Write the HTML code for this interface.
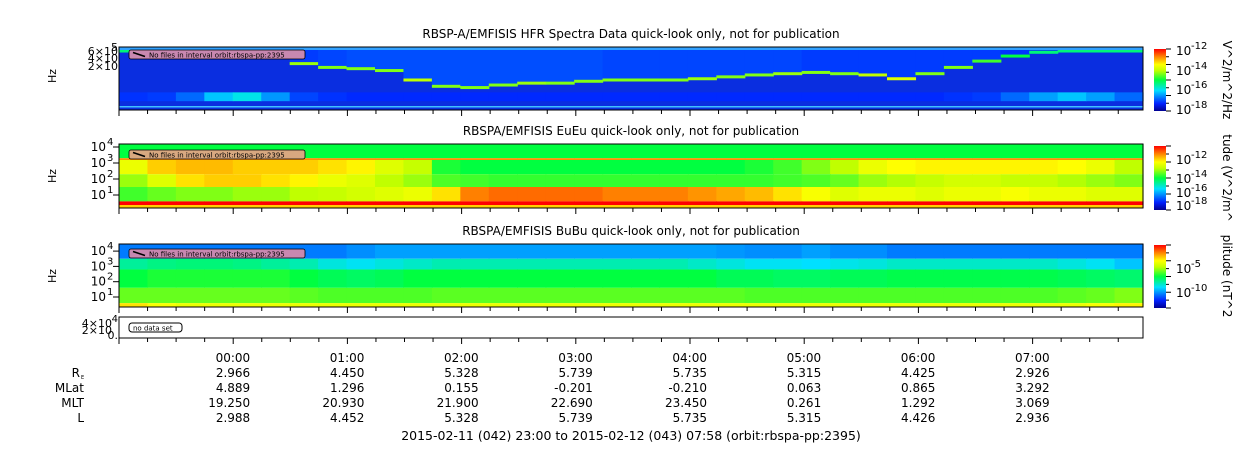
<!DOCTYPE html>
<html><head><meta charset="utf-8">
<style>
body{margin:0;background:#fff;}
svg{display:block;font-family:"DejaVu Sans","Liberation Sans",sans-serif;}
</style></head>
<body>
<svg id="s" width="1250" height="449" viewBox="0 0 1250 449" xmlns="http://www.w3.org/2000/svg">
<defs>
<linearGradient id="jet" x1="0" y1="1" x2="0" y2="0">
<stop offset="0" stop-color="#000090"/><stop offset="0.12" stop-color="#0020ff"/><stop offset="0.33" stop-color="#00e0ff"/>
<stop offset="0.5" stop-color="#00ff40"/><stop offset="0.65" stop-color="#c0ff00"/><stop offset="0.75" stop-color="#ffff00"/>
<stop offset="0.88" stop-color="#ff8000"/><stop offset="1" stop-color="#ff0000"/>
</linearGradient>
</defs>
<g id="g"></g>
</svg>
<script>
// ---- data (15-minute columns from 23:00) ----
const hourLabels=["00:00","01:00","02:00","03:00","04:00","05:00","06:00","07:00"];
const reVals=["2.966","4.450","5.328","5.739","5.735","5.315","4.425","2.926"];
const mlatVals=["4.889","1.296","0.155","-0.201","-0.210","0.063","0.865","3.292"];
const mltVals=["19.250","20.930","21.900","22.690","23.450","0.261","1.292","3.069"];
const lVals=["2.988","4.452","5.328","5.739","5.735","5.315","4.426","2.936"];
// HFR upper-hybrid line position (fraction of panel height) and intensity
const hfrLinePos=[.04,.04,.04,.04,.04,.08,.24,.3,.32,.35,.5,.6,.62,.58,.55,.55,.52,.5,.5,.5,.48,.45,.42,.4,.38,.4,.42,.48,.4,.3,.2,.12,.06,.04,.04,.04];
const hfrLineVal=[.45,.45,.45,.45,.5,.55,.62,.6,.6,.6,.65,.6,.6,.6,.62,.6,.6,.6,.6,.6,.62,.6,.6,.62,.6,.6,.65,.7,.6,.6,.55,.5,.45,.45,.45,.45];
const hfrUpperVal=[.15,.15,.15,.15,.15,.15,.15,.16,.17,.17,.17,.17,.17,.17,.17,.17,.17,.16,.16,.16,.16,.16,.16,.16,.15,.15,.15,.15,.15,.15,.15,.14,.14,.14,.14,.14];
const hfrLowVal=[.14,.15,.2,.3,.35,.25,.16,.14,.13,.13,.13,.13,.13,.13,.13,.13,.13,.13,.13,.13,.13,.13,.13,.13,.13,.13,.13,.13,.13,.14,.15,.2,.26,.3,.26,.2];
// EuEu layers
const eTopVal=[.5,.5,.5,.5,.5,.5,.5,.5,.5,.5,.5,.5,.5,.5,.5,.5,.5,.5,.5,.5,.5,.5,.5,.5,.5,.5,.5,.5,.5,.5,.5,.5,.5,.5,.5,.5];
const eHighVal=[.72,.8,.82,.82,.8,.8,.8,.78,.76,.7,.66,.52,.5,.5,.5,.5,.5,.5,.5,.5,.5,.5,.52,.55,.6,.65,.72,.75,.76,.76,.76,.76,.76,.75,.72,.65];
const eMidVal=[.62,.7,.78,.8,.8,.78,.76,.72,.7,.65,.62,.56,.55,.54,.54,.54,.54,.54,.54,.54,.54,.54,.54,.55,.56,.58,.62,.64,.66,.68,.68,.66,.66,.64,.62,.6];
const eLowVal=[.55,.58,.6,.6,.62,.62,.65,.66,.68,.7,.72,.78,.88,.9,.9,.9,.9,.88,.88,.88,.86,.84,.82,.78,.74,.7,.72,.72,.7,.72,.72,.74,.72,.72,.7,.7];
const eStripVal=[1,1,1,1,1,1,1,1,1,1,1,1,1,1,1,1,1,1,1,1,1,1,1,1,1,1,1,1,1,1,1,1,1,1,1,1];
// BuBu layers
const bTopVal=[.22,.22,.22,.22,.22,.22,.22,.22,.24,.26,.26,.26,.26,.26,.26,.26,.26,.26,.26,.26,.26,.25,.24,.24,.26,.24,.24,.22,.22,.22,.22,.22,.22,.22,.22,.22];
const bUpVal=[.42,.44,.45,.45,.44,.42,.4,.36,.34,.36,.38,.4,.4,.4,.4,.4,.4,.4,.4,.4,.38,.36,.34,.34,.33,.35,.36,.38,.38,.38,.38,.38,.38,.36,.34,.3];
const bMidVal=[.5,.52,.52,.52,.52,.52,.5,.48,.47,.48,.5,.5,.5,.5,.5,.5,.5,.5,.5,.5,.5,.48,.48,.47,.47,.48,.48,.49,.49,.49,.49,.49,.49,.48,.47,.46];
const bLowVal=[.58,.58,.58,.58,.58,.58,.57,.56,.56,.56,.56,.57,.57,.57,.57,.57,.57,.57,.57,.57,.57,.57,.56,.56,.56,.56,.56,.56,.56,.56,.56,.56,.56,.57,.58,.6];
const bStripVal=[.78,.74,.72,.72,.72,.72,.72,.72,.72,.72,.72,.72,.72,.72,.72,.72,.72,.72,.72,.72,.72,.72,.72,.72,.72,.72,.72,.72,.72,.72,.72,.72,.72,.72,.74,.76];

const NS="http://www.w3.org/2000/svg";
const G=document.getElementById('g');
const X0=119,X1=1143,N=36,CW=(X1-X0)/N;
const xCol=i=>X0+i*CW;
const xHour=h=>X0+(h+1)*((X1-X0)/(8+58/60));
function cmap(v){
 const st=[[0,[0,0,144]],[.12,[0,32,255]],[.33,[0,224,255]],[.5,[0,255,64]],[.65,[192,255,0]],[.75,[255,255,0]],[.88,[255,128,0]],[1,[255,0,0]]];
 v=Math.max(0,Math.min(1,v));
 for(let k=1;k<st.length;k++){if(v<=st[k][0]){const a=st[k-1],b=st[k],t=(v-a[0])/(b[0]-a[0]);
 return 'rgb('+a[1].map((c,j)=>Math.round(c+(b[1][j]-c)*t)).join(',')+')';}}
 return 'rgb(255,0,0)';
}
function el(tag,attrs,parent){const e=document.createElementNS(NS,tag);for(const k in attrs)e.setAttribute(k,attrs[k]);(parent||G).appendChild(e);return e;}
function txt(x,y,s,size,anchor,name,extra){const t=el('text',Object.assign({x:x,y:y,'font-size':size,'text-anchor':anchor||'start',fill:'#000'},extra||{}));t.textContent=s;
 
 
 return t;}
function layer(arr,y0,y1,name){for(let i=0;i<N;i++){const r=el('rect',{x:xCol(i),y:y0,width:CW+0.6,height:y1-y0,fill:cmap(arr[i])});
 
 }}

function panelFrame(y0,y1,name){
 const r=el('rect',{x:X0,y:y0,width:X1-X0,height:y1-y0,fill:'none',stroke:'#000','stroke-width':1});
 
 
 for(let m=0;m<=36;m++){const x=X0+m*(X1-X0)/(8+58/60)/4; if(x>X1)break;
  const major=(m%4===0);
  el('line',{x1:x,x2:x,y1:y1,y2:y1+(major?6:4),stroke:'#000'});}
}
function noFiles(y,color){const g=el('g',{});
 
 
 el('rect',{x:129,y:y,width:176,height:9,rx:2,fill:color,stroke:'#000','stroke-width':0.8},g);
 el('line',{x1:133,y1:y+2.5,x2:145,y2:y+6.5,stroke:'#000','stroke-width':1.5},g);
 const t=el('text',{x:149,y:y+7.5,'font-size':7,fill:'#000'},g);t.textContent='No files in interval orbit:rbspa-pp:2395';}

// ---- Panel 1 HFR ----
const P1={y0:47,y1:110};
txt(631,38,'RBSP-A/EMFISIS  HFR Spectra Data quick-look only, not for publication',12,'middle','panel1-title');
el('rect',{x:X0,y:P1.y0,width:X1-X0,height:P1.y1-P1.y0,fill:'#0a2ee0'});
const H1=P1.y1-P1.y0;
for(let i=0;i<N;i++){
 const ly=P1.y0+hfrLinePos[i]*H1;
 let r=el('rect',{x:xCol(i),y:P1.y0+2,width:CW+0.6,height:Math.max(0,ly-P1.y0-2),fill:cmap(hfrUpperVal[i])});
 
 
 r=el('rect',{x:xCol(i),y:ly,width:CW+0.6,height:3,fill:cmap(hfrLineVal[i])});
 
 
 r=el('rect',{x:xCol(i),y:P1.y0+0.72*H1,width:CW+0.6,height:0.14*H1,fill:cmap(hfrLowVal[i])});
 
 
}
el('rect',{x:X0,y:P1.y0,width:X1-X0,height:3,fill:'#30a0ff'});
el('rect',{x:X0,y:P1.y1-4,width:X1-X0,height:1.5,fill:'#40c0ff'});
panelFrame(P1.y0,P1.y1,'hfr-spectrogram');
noFiles(50,'#c888b0');
txt(118,51,'5',11,'end','y-tick-top');
txt(118,55,'6×10',11,'end','y-tick-6e5');
txt(118,62,'4×10',11,'end','y-tick-4e5');
txt(118,70,'2×10',11,'end','y-tick-2e5');
txt(56,76,'Hz',11,'middle','panel1-y-title',{transform:'rotate(-90 56 76)'});

// ---- Panel 2 EuEu ----
const P2={y0:144,y1:208};
txt(631,135,'RBSPA/EMFISIS  EuEu quick-look only, not for publication',12,'middle','panel2-title');
const ly2=l=>195-(l-1)*16;
layer(eTopVal,P2.y0,ly2(3.3),'eueu-top');
layer(eHighVal,ly2(3.2),ly2(2.3),'eueu-high');
layer(eMidVal,ly2(2.3),ly2(1.5),'eueu-mid');
layer(eLowVal,ly2(1.5),ly2(0.6),'eueu-low');
layer(eStripVal,ly2(0.6),P2.y1,'eueu-strip');
el('rect',{x:X0,y:ly2(3.3),width:X1-X0,height:1.8,fill:'#ff9000'});
el('rect',{x:X0,y:P2.y1-3,width:X1-X0,height:3,fill:'#ffd000'});
panelFrame(P2.y0,P2.y1,'eueu-spectrogram');
noFiles(150,'#d8a880');
[[1,'1'],[2,'2'],[3,'3'],[4,'4']].forEach(([p,s])=>{const y=ly2(p)+4;
 txt(106,y,'10',12,'end','y-tick-1e'+s);txt(107,y-6,s,10,'start','y-tick-exp');
 el('line',{x1:X0-6,x2:X0,y1:ly2(p),y2:ly2(p),stroke:'#000'});});
txt(56,176,'Hz',11,'middle','panel2-y-title',{transform:'rotate(-90 56 176)'});

// ---- Panel 3 BuBu ----
const P3={y0:244,y1:307};
txt(631,235,'RBSPA/EMFISIS  BuBu quick-look only, not for publication',12,'middle','panel3-title');
const ly3=l=>297-(l-1)*15.3;
layer(bTopVal,P3.y0,ly3(3.5),'bubu-top');
layer(bUpVal,ly3(3.5),ly3(2.8),'bubu-upper');
layer(bMidVal,ly3(2.8),ly3(1.6),'bubu-mid');
layer(bLowVal,ly3(1.6),ly3(0.6),'bubu-low');
layer(bStripVal,ly3(0.6),P3.y1,'bubu-strip');
panelFrame(P3.y0,P3.y1,'bubu-spectrogram');
noFiles(249,'#c888b0');
[[1,'1'],[2,'2'],[3,'3'],[4,'4']].forEach(([p,s])=>{const y=ly3(p)+4;
 txt(106,y,'10',12,'end','y-tick-1e'+s);txt(107,y-6,s,10,'start','y-tick-exp');
 el('line',{x1:X0-6,x2:X0,y1:ly3(p),y2:ly3(p),stroke:'#000'});});
txt(56,276,'Hz',11,'middle','panel3-y-title',{transform:'rotate(-90 56 276)'});

// ---- Panel 4 empty ----
panelFrame(317,338,'empty-panel');
const nd=el('g',{});


el('rect',{x:129,y:323,width:53,height:9,rx:3,fill:'#fff',stroke:'#000'},nd);
const ndt=el('text',{x:133,y:330.5,'font-size':7},nd);ndt.textContent='no data set';
txt(118,322,'4',10,'end','y-tick-4');
txt(112,327,'4×10',11,'end','y-tick-4e4');
txt(112,334,'2×10',11,'end','y-tick-2e4');
txt(118,339,'0.',11,'end','y-tick-0');

// ---- colorbars ----
[[49,111,'cb-hfr'],[146,210,'cb-eueu'],[245,308,'cb-bubu']].forEach(([a,b,n])=>{
 const r=el('rect',{x:1154,y:a,width:12,height:b-a,fill:'url(#jet)'});
 
 
 for(let k=0;k<=8;k++){const y=a+(b-a)*k/8;el('line',{x1:1166,x2:k%2?1169:1171,y1:y,y2:y,stroke:'#000'});}
});
const cb1=[['-12',50],['-14',70],['-16',89],['-18',109]];
cb1.forEach(([e,y])=>{txt(1176,y+5,'10',12,'start','cb1-tick');txt(1191,y-1,e,10,'start','cb1-exp');});
const cb2=[['-12',159],['-14',178],['-16',192],['-18',205]];
cb2.forEach(([e,y])=>{txt(1176,y+5,'10',12,'start','cb2-tick');txt(1191,y-1,e,10,'start','cb2-exp');});
[['-5',268],['-10',292]].forEach(([e,y])=>{txt(1176,y+5,'10',12,'start','cb3-tick');txt(1191,y-1,e,10,'start','cb3-exp');});
txt(1223,80,'V^2/m^2/Hz',12,'middle','cb1-title',{transform:'rotate(90 1223 80)'});
txt(1223,178,'tude (V^2/m^',12,'middle','cb2-title',{transform:'rotate(90 1223 178)'});
txt(1223,276,'plitude (nT^2',12,'middle','cb3-title',{transform:'rotate(90 1223 276)'});

// ---- ephemeris table ----
for(let h=0;h<8;h++){const x=xHour(h)+17;
 txt(x,362,hourLabels[h],12,'end','time-label');
 txt(x,377,reVals[h],12,'end','re-value');
 txt(x,392,mlatVals[h],12,'end','mlat-value');
 txt(x,407,mltVals[h],12,'end','mlt-value');
 txt(x,422,lVals[h],12,'end','l-value');}
txt(80,377,'R',12,'end','re-label');txt(81,379,'E',5,'start','re-sub');
txt(84,392,'MLat',12,'end','mlat-label');
txt(84,407,'MLT',12,'end','mlt-label');
txt(84,422,'L',12,'end','l-label');
txt(631,440,'2015-02-11 (042) 23:00 to 2015-02-12 (043) 07:58 (orbit:rbspa-pp:2395)',12.5,'middle','time-range-caption');
</script>
</body></html>
